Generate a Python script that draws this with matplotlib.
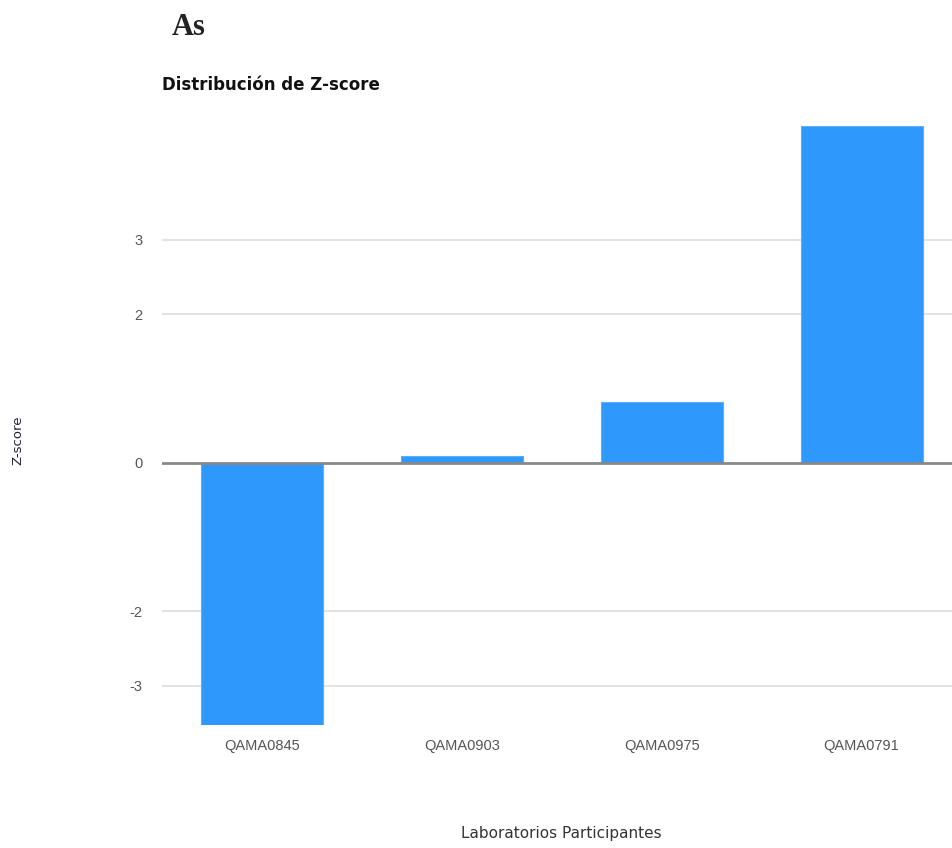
import matplotlib.pyplot as plt

# Z-score por laboratorio
laboratorios = ['QAMA0845', 'QAMA0903', 'QAMA0975', 'QAMA0791']
z_scores = [-3.53, 0.09, 0.82, 4.53]
y_ticks = [-3, -2, 0, 2, 3]

fig = plt.figure(figsize=(9.52, 8.48), dpi=100)
ax = fig.add_axes([0.170, 0.145, 0.840, 0.7064])

x = range(len(laboratorios))
ax.bar(x, z_scores, width=0.61, color='#2f98fd', edgecolor='#5aaefc', linewidth=0.8, zorder=2)

ax.set_xlim(-0.5, 3.5)
ax.set_ylim(min(z_scores), max(z_scores))
ax.set_yticks(y_ticks)
ax.set_yticklabels([str(t) for t in y_ticks])
ax.set_xticks(list(x))
ax.set_xticklabels(laboratorios)

for t in y_ticks:
    if t != 0:
        ax.axhline(t, color='#dddddd', linewidth=1.2, zorder=1)
ax.axhline(0, color='#888888', linewidth=2, zorder=3)

for s in ax.spines.values():
    s.set_visible(False)
ax.tick_params(axis='both', length=0, colors='#555555', labelsize=10.5)
ax.tick_params(axis='y', pad=14)
ax.tick_params(axis='x', pad=10)
for lbl in ax.get_xticklabels() + ax.get_yticklabels():
    lbl.set_family('Liberation Sans')

fig.text(0.590, 0.008, 'Laboratorios Participantes', ha='center', va='bottom',
         fontsize=11, color='#333333')
fig.text(0.019, 0.481, 'Z-score', rotation=90, ha='center', va='center',
         fontsize=9.5, color='#2a2035')
fig.text(0.170, 0.900, 'Distribución de Z-score', ha='left', va='center',
         fontsize=12, fontweight='bold', color='#111111')
fig.text(0.180, 0.968, 'As', ha='left', va='center', fontsize=22,
         fontweight='bold', family='Liberation Serif', color='#222222')

fig.savefig('out.png', dpi=100)
